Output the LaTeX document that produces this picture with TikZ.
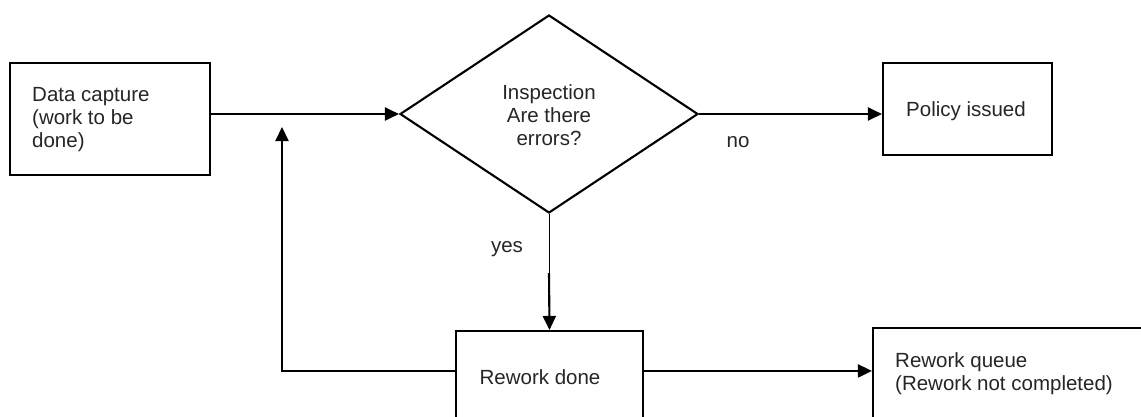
\documentclass[tikz,border=0pt]{standalone}
\usepackage{fontspec}
\setmainfont{Liberation Sans}
\usetikzlibrary{shapes.geometric,arrows.meta,calc}
\begin{document}
\begin{tikzpicture}[x=1pt,y=-1pt,
  box/.style={draw=black,line width=2.1pt,rectangle,inner sep=0pt},
  dec/.style={draw=black,line width=2.1pt,diamond,inner sep=0pt,minimum width=298pt,minimum height=198pt},
  txt/.style={inner sep=0pt,font=\fontsize{20.5}{23}\selectfont,text=black!85},
  arr/.style={line width=2.1pt,-{Triangle[length=14pt,width=13pt]}},
  ln/.style={line width=2.1pt}]
\useasboundingbox (0,0) rectangle (1141,416);
\clip (0,0) rectangle (1141,416);
\fill[white] (0,0) rectangle (1141,416);
% boxes
\node[box,minimum width=200pt,minimum height=112pt] (data) at (110,119) {};
\node[txt,anchor=west,align=left] (datat) at (32,120) {Data capture\\(work to be\\done)};
\node[dec,align=center] (insp) at (549,114) {};
\node[txt,align=center] (inspt) at (549,115) {Inspection\\Are there\\errors?};
\node[box,minimum width=169pt,minimum height=92pt] (policy) at (967.5,109) {};
\node[txt] (policyt) at (966,111) {Policy issued};
\node[box,minimum width=187pt,minimum height=110pt] (rework) at (549.5,386) {};
\node[txt] (reworkt) at (540,377) {Rework done};
\node[box,minimum width=290pt,minimum height=110pt] (queue) at (1018,383) {};
\node[txt,anchor=west,align=left] (queuet) at (895,374) {Rework queue\\(Rework not completed)};
% labels
\node[txt] (no) at (738,142) {no};
\node[txt] (yes) at (507,249) {yes};
% connectors
\draw[arr] (data.east |- insp.west) -- (insp.west);
\draw[arr] (insp.east) -- (insp.east -| policy.west);
\coordinate (ymid) at ($(insp.south)+(0,59)$);
\draw[line width=1pt] (insp.south) -- (ymid);
\draw[arr] (ymid) -- (rework.north);
\coordinate (rw) at ([yshift=-41pt]rework.north west);
\coordinate (re) at ([yshift=-41pt]rework.north east);
\coordinate (loopend) at (282,127);
\draw[arr] (rw) -| (loopend);
\draw[arr] (re) -- (re -| queue.west);
\end{tikzpicture}
\end{document}
